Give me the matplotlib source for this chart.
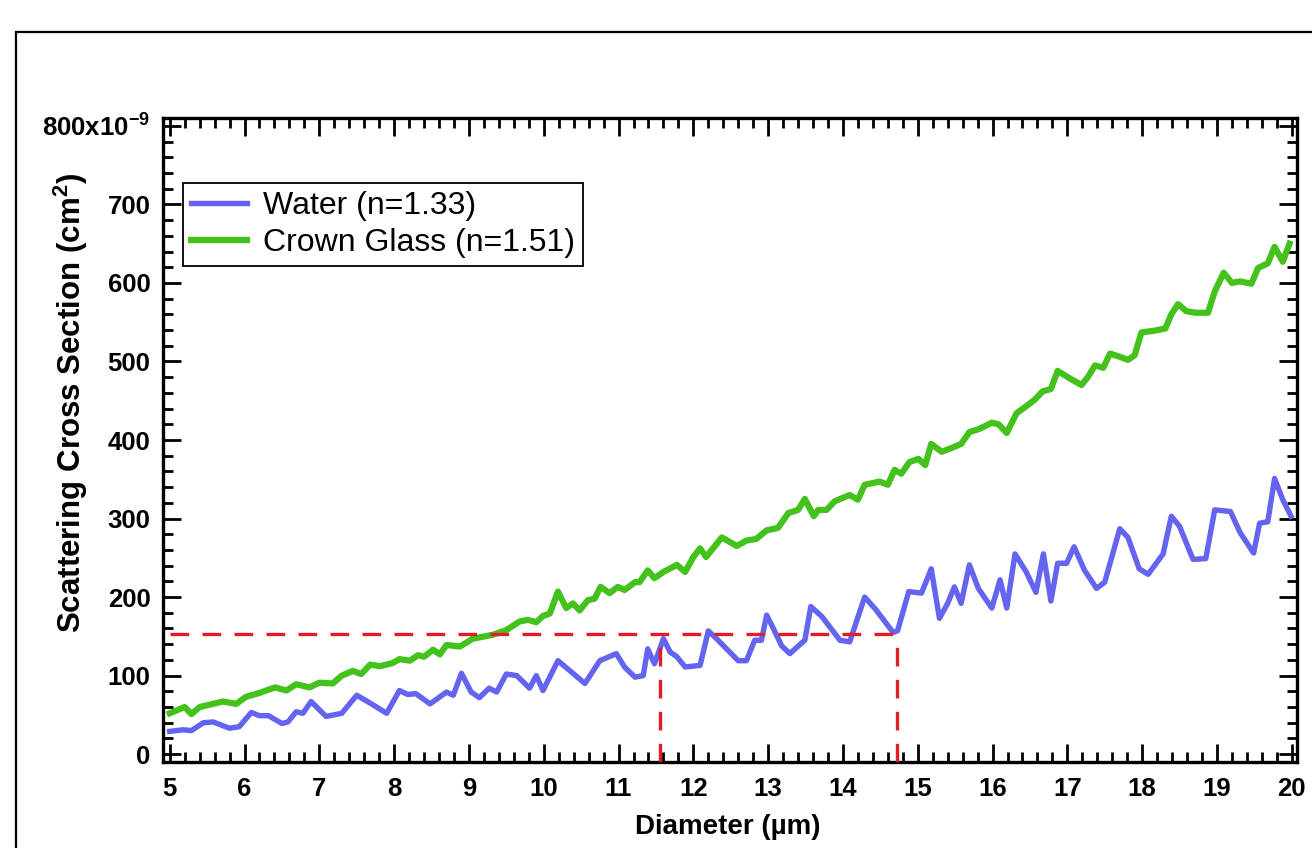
import matplotlib
matplotlib.use("Agg")
import matplotlib.pyplot as plt
from matplotlib.patches import Rectangle
from matplotlib.ticker import MultipleLocator, FixedLocator

plt.rcParams['font.family'] = ['Liberation Sans', 'DejaVu Sans']
plt.rcParams['mathtext.fontset'] = 'custom'
plt.rcParams['mathtext.rm'] = 'Liberation Sans:bold'
plt.rcParams['mathtext.bf'] = 'Liberation Sans:bold'
plt.rcParams['mathtext.it'] = 'Liberation Sans:bold'

# ---- data (scattering cross section, units of 1e-9 cm^2) ----
water_x = [5.00, 5.18, 5.29, 5.45, 5.58, 5.80, 5.93, 6.09, 6.20, 6.32,
           6.50, 6.58, 6.69, 6.78, 6.89, 7.09, 7.30, 7.50, 7.68, 7.90,
           8.07, 8.18, 8.29, 8.48, 8.70, 8.79, 8.90, 9.03, 9.14, 9.27,
           9.37, 9.50, 9.64, 9.81, 9.90, 9.99, 10.19, 10.34, 10.55, 10.75,
           10.97, 11.08, 11.22, 11.33, 11.39, 11.48, 11.60, 11.69, 11.78, 11.89,
           12.09, 12.20, 12.31, 12.60, 12.71, 12.82, 12.91, 12.98, 13.07, 13.18,
           13.29, 13.43, 13.49, 13.57, 13.72, 13.96, 14.09, 14.29, 14.44, 14.67,
           14.73, 14.88, 15.05, 15.18, 15.29, 15.40, 15.49, 15.58, 15.69, 15.81,
           15.99, 16.10, 16.19, 16.30, 16.45, 16.58, 16.68, 16.78, 16.87, 16.99,
           17.09, 17.23, 17.39, 17.50, 17.70, 17.81, 17.96, 18.08, 18.28, 18.39,
           18.50, 18.68, 18.85, 18.97, 19.18, 19.31, 19.49, 19.57, 19.68, 19.77,
           19.88, 19.99]
water_y = [29, 31, 30, 40, 41, 33, 35, 53, 49, 49,
           39, 41, 54, 52, 67, 48, 52, 75, 65, 52,
           81, 76, 77, 64, 79, 75, 103, 79, 72, 84,
           79, 102, 100, 84, 100, 81, 119, 107, 90, 119,
           128, 111, 98, 100, 134, 115, 147, 130, 124, 111,
           113, 157, 147, 119, 119, 145, 145, 177, 160, 138,
           128, 140, 145, 188, 175, 145, 143, 200, 184, 155,
           157, 207, 205, 236, 173, 192, 213, 192, 241, 211,
           186, 222, 186, 255, 232, 206, 255, 195, 243, 243,
           264, 234, 211, 219, 287, 276, 236, 229, 255, 303,
           290, 248, 249, 311, 309, 282, 256, 294, 296, 351,
           324, 303]

glass_x = [5.00, 5.20, 5.29, 5.40, 5.71, 5.89, 6.02, 6.20, 6.41, 6.56,
           6.69, 6.87, 7.00, 7.18, 7.30, 7.45, 7.56, 7.68, 7.81, 7.98,
           8.07, 8.21, 8.32, 8.40, 8.52, 8.61, 8.70, 8.88, 9.05, 9.32,
           9.50, 9.68, 9.79, 9.90, 9.99, 10.08, 10.19, 10.30, 10.39, 10.48,
           10.59, 10.68, 10.76, 10.88, 10.99, 11.08, 11.22, 11.28, 11.39, 11.48,
           11.60, 11.78, 11.89, 12.00, 12.09, 12.17, 12.38, 12.58, 12.71, 12.84,
           12.98, 13.13, 13.27, 13.40, 13.49, 13.61, 13.67, 13.78, 13.89, 14.09,
           14.20, 14.29, 14.49, 14.60, 14.69, 14.78, 14.89, 15.01, 15.10, 15.18,
           15.32, 15.43, 15.58, 15.69, 15.82, 15.99, 16.08, 16.19, 16.32, 16.45,
           16.56, 16.67, 16.78, 16.87, 17.04, 17.19, 17.28, 17.37, 17.48, 17.57,
           17.70, 17.81, 17.90, 17.99, 18.15, 18.31, 18.39, 18.48, 18.59, 18.72,
           18.88, 18.97, 19.09, 19.20, 19.31, 19.46, 19.55, 19.68, 19.77, 19.88,
           19.97]
glass_y = [52, 60, 51, 60, 67, 64, 73, 78, 85, 81,
           89, 85, 91, 90, 100, 106, 102, 114, 112, 116,
           121, 119, 126, 124, 133, 127, 139, 137, 147, 152,
           158, 169, 171, 168, 176, 179, 207, 186, 192, 183,
           196, 198, 213, 205, 213, 209, 219, 219, 234, 224,
           232, 241, 232, 251, 262, 251, 276, 265, 272, 274,
           285, 288, 307, 311, 325, 303, 311, 311, 322, 330,
           324, 343, 347, 343, 362, 357, 372, 376, 368, 395,
           385, 389, 395, 410, 414, 422, 420, 409, 434, 443,
           451, 462, 465, 488, 478, 470, 481, 495, 492, 510,
           506, 502, 508, 537, 539, 542, 560, 573, 564, 562,
           562, 589, 613, 600, 602, 599, 619, 625, 646, 627,
           650]

series_labels = ["Water (n=1.33)", "Crown Glass (n=1.51)"]

# reference guide lines
ref_level = 153
ref_x_start = 5.0
ref_d1 = 11.56
ref_d2 = 14.72

x_ticks = list(range(5, 21))
y_ticks = [0, 100, 200, 300, 400, 500, 600, 700, 800]
y_ticklabels = ["0", "100", "200", "300", "400", "500", "600", "700",
                r"800x10$^{\mathbf{-9}}$"]

W, H = 1312, 848
fig = plt.figure(figsize=(W / 100, H / 100), dpi=100)
ax = fig.add_axes([163 / W, 1 - 762 / H, (1297 - 163) / W, (762 - 118) / H])

blue = '#6464F0'
green = '#44C21C'
red = '#E01E28'

ax.plot(water_x, water_y, color=blue, lw=3.9, label=series_labels[0],
        solid_joinstyle='round', zorder=3)
ax.plot(glass_x, glass_y, color=green, lw=4.5, label=series_labels[1],
        solid_joinstyle='round', zorder=3)

ylo, yhi = -10, 810
dash = (0, (5.6, 4.0))
ax.plot([ref_x_start, ref_d2], [ref_level, ref_level], color=red, lw=2.4,
        linestyle=dash, zorder=4)
ax.plot([ref_d1, ref_d1], [ylo, ref_level], color=red, lw=2.4, linestyle=dash, zorder=4)
ax.plot([ref_d2, ref_d2], [ylo, ref_level], color=red, lw=2.4, linestyle=dash, zorder=4)

ax.set_xlim(4.91, 20.07)
ax.set_ylim(ylo, yhi)
ax.xaxis.set_major_locator(FixedLocator(x_ticks))
ax.xaxis.set_minor_locator(MultipleLocator(0.2))
ax.yaxis.set_major_locator(FixedLocator(y_ticks))
ax.yaxis.set_minor_locator(MultipleLocator(20))
ax.set_xticklabels([str(t) for t in x_ticks])
ax.set_yticklabels(y_ticklabels)

ax.tick_params(which='both', direction='in', top=True, right=True, width=2.0,
               color='black')
ax.tick_params(which='major', length=13, labelsize=18.5)
ax.tick_params(axis='x', which='major', pad=11)
ax.tick_params(axis='y', which='major', pad=9)
ax.tick_params(which='minor', length=7)
for lab in ax.get_xticklabels() + ax.get_yticklabels():
    lab.set_fontweight('bold')
for sp in ax.spines.values():
    sp.set_linewidth(2.4)

fig.text(728 / W, 1 - 827 / H, "Diameter (µm)", ha='center', va='center',
         fontsize=20, fontweight='bold')
fig.text(71 / W, 1 - 403 / H, r"Scattering Cross Section (cm$^{\mathbf{2}}$)",
         ha='center', va='center', rotation=90, fontsize=22.5, fontweight='bold')

leg = ax.legend(loc='upper left', bbox_to_anchor=((183 - 163) / 1134, (762 - 183) / 644),
                borderaxespad=0, fontsize=23, handlelength=1.75, handletextpad=0.5,
                borderpad=0.26, labelspacing=0.2, fancybox=False, framealpha=1,
                edgecolor='black')
leg.get_frame().set_linewidth(1.3)

# outer frame of the figure
fig.patches.append(Rectangle((16 / W, -0.1), 1.2, (1 - 32 / H) + 0.1,
                             transform=fig.transFigure, fill=False,
                             edgecolor='black', lw=1.6, clip_on=False))

fig.savefig("out.png", dpi=100)
